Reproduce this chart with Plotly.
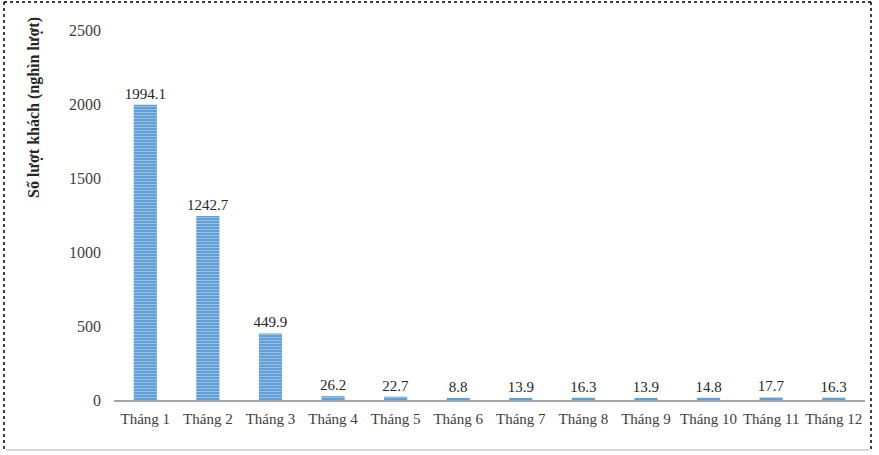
import plotly.graph_objects as go

months = ["Tháng 1", "Tháng 2", "Tháng 3", "Tháng 4", "Tháng 5", "Tháng 6",
          "Tháng 7", "Tháng 8", "Tháng 9", "Tháng 10", "Tháng 11", "Tháng 12"]
visitors = [1994.1, 1242.7, 449.9, 26.2, 22.7, 8.8, 13.9, 16.3, 13.9, 14.8, 17.7, 16.3]
y_ticks = [0, 500, 1000, 1500, 2000, 2500]

W, H = 879, 455
L, R, T, B = 114, 14, 30, 55
pw, ph = W - L - R, H - T - B

def px(x):
    return (x - L) / pw

def py(y):
    return (H - B - y) / ph

serif = "Liberation Serif, Times New Roman, serif"

fig = go.Figure()
fig.add_trace(go.Bar(
    x=months, y=visitors,
    text=[f"{v:.1f}" for v in visitors],
    textposition="outside",
    constraintext="none",
    textfont=dict(family=serif, size=15, color="#262626"),
    cliponaxis=False,
    marker=dict(
        color="#5B9BD5",
        line=dict(width=0),
        pattern=dict(shape="-", fgcolor="#D6E6F6", bgcolor="#5B9BD5",
                     size=3, solidity=0.4, fillmode="overlay"),
    ),
))

# dotted frame round the chart, light grey line at the bottom
frame = [
    (4, 2, 4, 452, "black", "dot"),
    (4, 2, 871, 2, "black", "dot"),
    (871, 2, 871, 452, "black", "dot"),
    (6, 450, 869, 450, "#D9D9D9", "solid"),
]
for x0, y0, x1, y1, c, d in frame:
    fig.add_shape(type="line", xref="paper", yref="paper",
                  x0=px(x0), y0=py(y0), x1=px(x1), y1=py(y1),
                  line=dict(color=c, width=1.5 if d == "dot" else 2, dash=d))

fig.add_annotation(
    text="<b>Số lượt khách (nghìn lượt)</b>",
    xref="paper", yref="paper", x=px(34), y=py(108),
    xanchor="center", yanchor="middle",
    textangle=-90, showarrow=False,
    font=dict(family=serif, size=16, color="#262626"),
)

fig.update_layout(
    width=W, height=H,
    margin=dict(l=L, r=R, t=T, b=B),
    paper_bgcolor="white", plot_bgcolor="white",
    bargap=0.63,
    showlegend=False,
    font=dict(family=serif, size=15, color="#404040"),
    xaxis=dict(showline=True, linecolor="#A6A6A6", linewidth=2,
               ticks="", ticklabelstandoff=4,
               tickfont=dict(family=serif, size=15, color="#404040")),
    yaxis=dict(range=[0, 2500], tickvals=y_ticks, showgrid=False,
               zeroline=False, showline=False, ticks="",
               ticklabelstandoff=12,
               tickfont=dict(family=serif, size=16, color="#404040")),
)

fig.write_html("out.html", config={"displayModeBar": False},
               post_script="document.body.style.margin='0';")
